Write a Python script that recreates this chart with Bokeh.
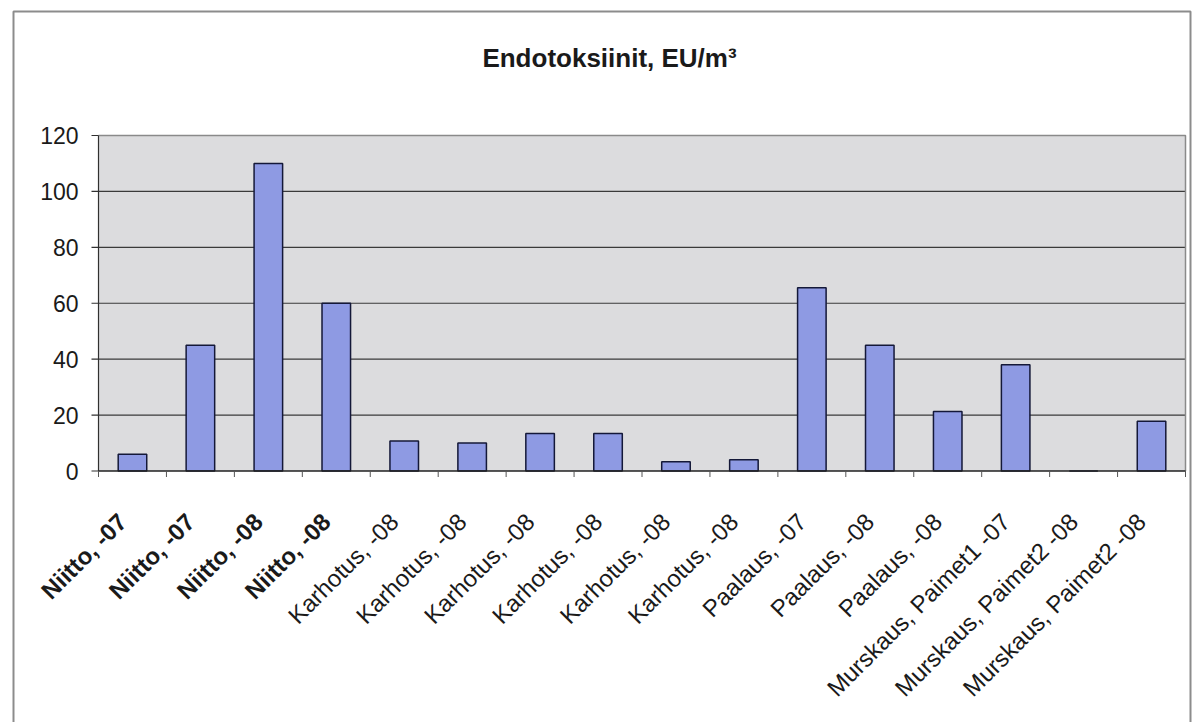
import math
from bokeh.plotting import figure
from bokeh.models import Range1d
from bokeh.core.properties import value
from bokeh.embed import file_html
from bokeh.resources import INLINE

# ---- data ----
categories = [
    "Niitto, -07", "Niitto, -07", "Niitto, -08", "Niitto, -08",
    "Karhotus, -08", "Karhotus, -08", "Karhotus, -08", "Karhotus, -08",
    "Karhotus, -08", "Karhotus, -08", "Paalaus, -07", "Paalaus, -08",
    "Paalaus, -08", "Murskaus, Paimet1 -07", "Murskaus, Paimet2 -08",
    "Murskaus, Paimet2 -08",
]
values = [6, 45, 110, 60, 10.7, 10, 13.4, 13.4, 3.3, 4, 65.5, 45, 21.3, 38, 0, 17.8]
bold_label = [True, True, True, True] + [False] * 12
y_ticks = [0, 20, 40, 60, 80, 100, 120]
title_text = "Endotoksiinit, EU/m\u00b3"

# ---- style / layout (pixels) ----
FONT = "Liberation Sans"
BAR_FILL = "#8E9AE3"
BAR_LINE = "#141838"
BG = "#DCDCDE"
W, H = 1194, 722
F_LEFT, F_RIGHT = 98, 1185      # plot area, x pixels
F_TOP, F_BOTTOM = 135, 470.5    # plot area, y pixels
n = len(categories)
Y_MAX = y_ticks[-1]
cat_px = (F_RIGHT - F_LEFT) / n
ppu = (F_BOTTOM - F_TOP) / Y_MAX


def dx(px):   # pixel x -> data x
    return -0.5 + (px - F_LEFT) / cat_px


def dy(py):   # pixel y -> data y
    return (F_BOTTOM - py) / ppu


p = figure(width=W, height=H, output_backend="svg", toolbar_location=None,
           x_range=Range1d(dx(0), dx(W)), y_range=Range1d(dy(H), dy(0)),
           x_axis_location=None, y_axis_location=None, min_border=0,
           outline_line_color=None, background_fill_color="white",
           border_fill_color="white")
p.xgrid.visible = False
p.ygrid.visible = False

x0, x1 = -0.5, n - 0.5

# plot-area background and grid lines
p.quad(left=[x0], right=[x1], bottom=[0], top=[Y_MAX], fill_color=BG, line_color=None)
grid_y = y_ticks[1:-1]
p.segment(x0=[x0] * len(grid_y), x1=[x1] * len(grid_y), y0=grid_y, y1=grid_y,
          line_color="#3a3a3a", line_width=1.2)
# top / right border of the plot area
p.line(x=[x0, x1, x1], y=[Y_MAX, Y_MAX, 0], line_color="#8a8a8a", line_width=1.5)

# bars
idx = list(range(n))
p.vbar(x=idx, top=values, width=0.42, fill_color=BAR_FILL,
       line_color=BAR_LINE, line_width=1.5)

# y axis
tick_len_x = 7 / cat_px
p.segment(x0=[x0], x1=[x0], y0=[0], y1=[Y_MAX], line_color="#303030", line_width=1.2)
p.segment(x0=[x0 - tick_len_x] * len(y_ticks), x1=[x0] * len(y_ticks),
          y0=y_ticks, y1=y_ticks, line_color="#303030", line_width=1.2)
p.text(x=[x0 - 20 / cat_px] * len(y_ticks), y=y_ticks, text=[str(t) for t in y_ticks],
       text_align="right", text_baseline="middle", text_font=value(FONT),
       text_font_size=value("23px"), text_color="#1a1a1a")

# x axis
bounds = [i - 0.5 for i in range(n + 1)]
p.segment(x0=[x0], x1=[x1], y0=[0], y1=[0], line_color="#202020", line_width=1.5)
p.segment(x0=bounds, x1=bounds, y0=[0] * len(bounds), y1=[-6 / ppu] * len(bounds),
          line_color="#555555", line_width=1)

# rotated category labels
lab_y = dy(517)
lab_dx = -10 / cat_px
for b in (True, False):
    sel = [i for i in idx if bold_label[i] == b]
    p.text(x=[i + lab_dx for i in sel], y=[lab_y] * len(sel),
           text=[categories[i] for i in sel], angle=math.pi / 4,
           text_align="right", text_baseline="middle", text_font=value(FONT),
           text_font_size=value("24px"),
           text_font_style="bold" if b else "normal", text_color="#1a1a1a")

# title
p.text(x=[dx(609)], y=[dy(57)], text=[title_text], text_align="center",
       text_baseline="middle", text_font=value(FONT), text_font_size=value("26px"),
       text_font_style="bold", text_color="#1a1a1a")

# chart-area border (left, top, right)
p.line(x=[dx(13), dx(13), dx(1190), dx(1190)], y=[dy(H), dy(11), dy(11), dy(H)],
       line_color="#8c8c8c", line_width=2)

open("out.html", "w").write(file_html(p, INLINE))
